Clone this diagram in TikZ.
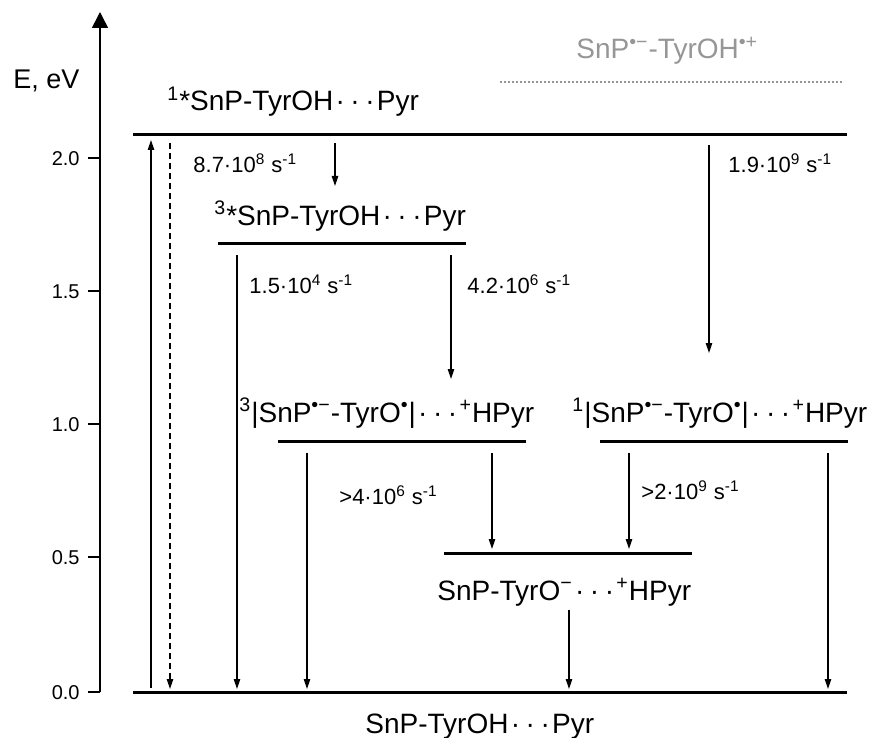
\documentclass[tikz,border=0pt]{standalone}
\usepackage{fontspec}
\setmainfont{Liberation Sans}
\usetikzlibrary{arrows.meta}
\definecolor{lgray}{RGB}{150,150,150}
\newcommand\cds{\kern.08em·\kern.2em·\kern.2em·\kern.08em}
\newcommand\sps[1]{\textsuperscript{#1}}
\begin{document}
\begin{tikzpicture}[x=0.5pt,y=-0.5pt,
  lvl/.style={line width=1.5pt},
  arr/.style={line width=0.6pt,-{Triangle[width=3.2pt,length=5pt]}},
  big/.style={font=\fontsize{14}{16}\selectfont,inner sep=0pt,anchor=base west},
  rate/.style={font=\fontsize{11}{13}\selectfont,inner sep=0pt,anchor=base west},
  ticklab/.style={font=\fontsize{10}{12}\selectfont,inner sep=0pt,anchor=base east}]
\useasboundingbox (0,0) rectangle (873,738);
% axis
\coordinate (ax0) at (100,692);
\coordinate (ax1) at (100,12);
\draw[line width=0.75pt,-{Triangle[width=8pt,length=8pt]}] (ax0) -- (ax1);
\foreach \y/\l [count=\i] in {692/0.0,557/0.5,424/1.0,291/1.5,158/2.0}{
  \coordinate (tk\i) at (88,\y);
  \draw[line width=0.75pt] (tk\i) -- (100,\y);
  \node[ticklab] (tl\i) at (80,\y+7) {\l};
}
\node[big,font=\fontsize{13.5}{16}\selectfont] (elab) at (13,89) {E, eV};
% levels
\coordinate (gL) at (133,692); \coordinate (gR) at (847,692);
\coordinate (sL) at (133,135); \coordinate (sR) at (847,135);
\coordinate (tL) at (218,243); \coordinate (tR) at (466,243);
\coordinate (aL) at (278,441); \coordinate (aR) at (526,441);
\coordinate (bL) at (600,441); \coordinate (bR) at (848,441);
\coordinate (cL) at (444,553); \coordinate (cR) at (692,553);
\coordinate (xL) at (500,82); \coordinate (xR) at (843,82);
\foreach \p in {g,s,t,a,b,c}{\draw[lvl] (\p L) -- (\p R);}
\draw[lgray,line width=1pt,dash pattern=on 1pt off 1pt] (xL) -- (xR);
% labels
\node[big] (sl) at (167,111) {\sps{1}*SnP-TyrOH\cds Pyr};
\node[big,text=lgray] (xl) at (576,59) {SnP\sps{•−}-TyrOH\sps{•+}};
\node[big] (tl) at (214,225) {\sps{3}*SnP-TyrOH\cds Pyr};
\node[big] (al) at (239,422) {\sps{3}|SnP\sps{•−}-TyrO\sps{•}|\cds\sps{+}HPyr};
\node[big] (bl) at (572,422) {\sps{1}|SnP\sps{•−}-TyrO\sps{•}|\cds\sps{+}HPyr};
\node[big] (cl) at (437,600) {SnP-TyrO\sps{−}\cds\sps{+}HPyr};
\node[big] (gl) at (365,733) {SnP-TyrOH\cds Pyr};
% arrows
\coordinate (e0) at (151,688); \coordinate (e1) at (151,140);
\draw[arr] (e0) -- (e1);
\coordinate (f0) at (170,143); \coordinate (f1) at (170,689);
\draw[arr,dash pattern=on 3pt off 2pt] (f0) -- (f1);
\coordinate (r10) at (335,143); \coordinate (r11) at (335,186);
\draw[arr] (r10) -- (r11);
\coordinate (r20) at (709,145); \coordinate (r21) at (709,353);
\draw[arr] (r20) -- (r21);
\coordinate (r30) at (237,255); \coordinate (r31) at (237,689);
\draw[arr] (r30) -- (r31);
\coordinate (r40) at (451,255); \coordinate (r41) at (451,379);
\draw[arr] (r40) -- (r41);
\coordinate (r50) at (307,453); \coordinate (r51) at (307,689);
\draw[arr] (r50) -- (r51);
\coordinate (r60) at (492,453); \coordinate (r61) at (492,549);
\draw[arr] (r60) -- (r61);
\coordinate (r70) at (629,453); \coordinate (r71) at (629,549);
\draw[arr] (r70) -- (r71);
\coordinate (r80) at (828,453); \coordinate (r81) at (828,689);
\draw[arr] (r80) -- (r81);
\coordinate (r90) at (569,610); \coordinate (r91) at (569,689);
\draw[arr] (r90) -- (r91);
% rate labels
\node[rate] (k1) at (193,172) {8.7·10\sps{8} s\sps{-1}};
\node[rate] (k2) at (728,172) {1.9·10\sps{9} s\sps{-1}};
\node[rate] (k3) at (249,293) {1.5·10\sps{4} s\sps{-1}};
\node[rate] (k4) at (467,293) {4.2·10\sps{6} s\sps{-1}};
\node[rate] (k5) at (339,504) {>4·10\sps{6} s\sps{-1}};
\node[rate] (k6) at (641,499) {>2·10\sps{9} s\sps{-1}};
\end{tikzpicture}
\end{document}
